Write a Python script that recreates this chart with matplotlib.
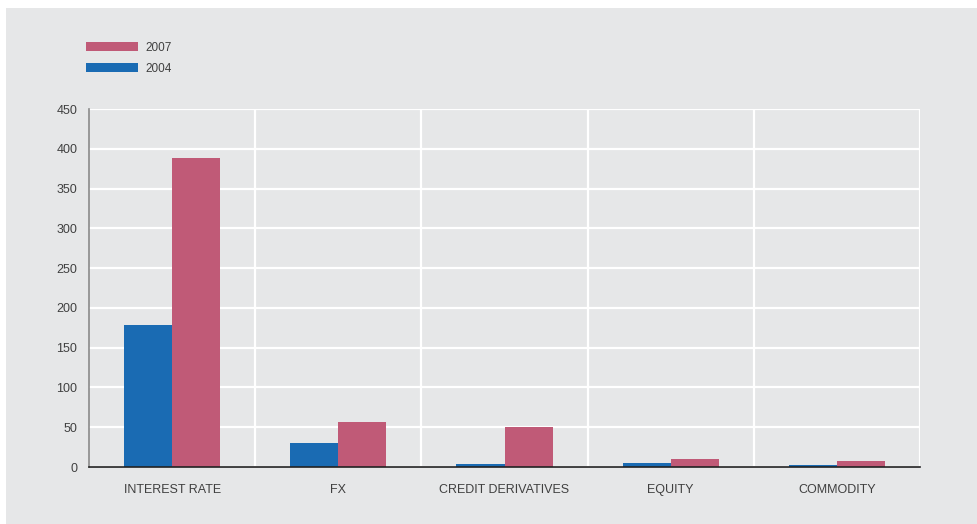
import numpy as np
import matplotlib
matplotlib.use("Agg")
import matplotlib.pyplot as plt
from matplotlib.patches import Patch, Rectangle

plt.rcParams['font.family'] = ['Liberation Sans', 'DejaVu Sans']

# notional outstanding by product
categories = ['INTEREST RATE', 'FX', 'CREDIT DERIVATIVES', 'EQUITY', 'COMMODITY']
values_2004 = [178, 30, 4, 5, 2]
values_2007 = [388, 57, 50, 10, 7.5]
yticks = [0, 50, 100, 150, 200, 250, 300, 350, 400, 450]

panel_grey = '#e6e7e8'
blue = '#1a6bb3'
pink = '#c05a77'
text_col = '#404040'

fig = plt.figure(figsize=(9.77, 5.24), dpi=100)
fig.patch.set_facecolor('white')
# grey backdrop behind the whole chart
fig.patches.append(Rectangle((6 / 977, 0), 1, 1 - 8 / 524, transform=fig.transFigure,
                             facecolor=panel_grey, edgecolor='none', zorder=-1))

ax = fig.add_axes([89 / 977, 1 - 467 / 524, (920 - 89) / 977, (467 - 109) / 524])
ax.set_facecolor(panel_grey)

x = np.arange(len(categories))
w = 0.29
ax.bar(x - w / 2, values_2004, width=w, color=blue, zorder=3)
ax.bar(x + w / 2, values_2007, width=w, color=pink, zorder=3)

ax.set_xlim(-0.5, len(categories) - 0.5)
ax.set_ylim(0, 450)
ax.set_yticks(yticks)
ax.set_xticks(x)
ax.set_xticklabels(categories)
ax.set_xticks(x + 0.5, minor=True)

ax.grid(axis='y', which='major', color='white', linewidth=1.6, zorder=1)
ax.grid(axis='x', which='minor', color='white', linewidth=1.6, zorder=1)
ax.grid(axis='x', which='major', visible=False)

ax.tick_params(axis='both', which='both', length=0, labelsize=9, labelcolor=text_col)
ax.tick_params(axis='x', pad=12)
ax.tick_params(axis='y', pad=8.5)

for side in ['top', 'right']:
    ax.spines[side].set_visible(False)
ax.spines['left'].set_color('#8a8a8a')
ax.spines['left'].set_linewidth(1.2)
ax.spines['bottom'].set_color('#222222')
ax.spines['bottom'].set_linewidth(1.2)
ax.spines['bottom'].set_zorder(4)

handles = [Patch(facecolor=pink, label='2007'), Patch(facecolor=blue, label='2004')]
fig.legend(handles=handles, loc='upper left', bbox_to_anchor=(81 / 977, 1 - 37 / 524),
           frameon=False, fontsize=8.5, labelcolor=text_col, handlelength=4.4,
           handleheight=0.7, labelspacing=0.75, handletextpad=0.7, borderaxespad=0)

fig.savefig('out.png', dpi=100, facecolor=fig.get_facecolor())
